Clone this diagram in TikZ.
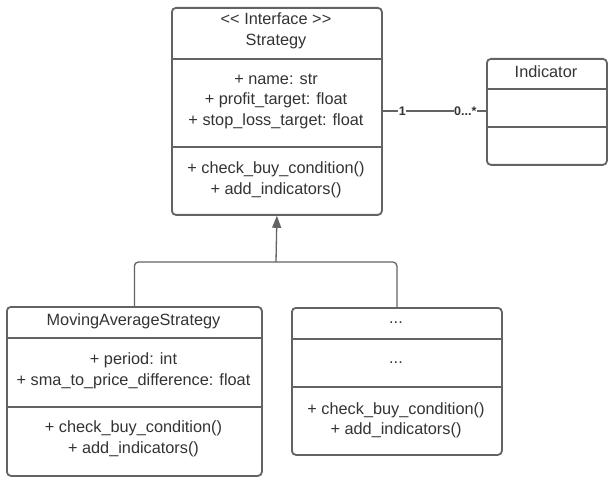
\documentclass[tikz,border=0pt]{standalone}
\usepackage{fontspec}
\setmainfont{Liberation Sans}
\usetikzlibrary{arrows.meta}
\definecolor{umlline}{HTML}{636363}
\definecolor{umltext}{HTML}{333333}

\begin{document}
\begin{tikzpicture}[
    x=1pt, y=-1pt,
    font=\fontsize{16.3}{20.5}\selectfont,
    classbox/.style={draw=umlline, line width=1.8pt, rounded corners=4pt,
        anchor=north west, inner sep=0pt},
    divider/.style={umlline, line width=1.8pt},
    member/.style={text=umltext, align=center, inner sep=0pt},
    conn/.style={umlline, line width=1.3pt},
    mult/.style={text=umltext, font=\fontsize{12.5}{14}\selectfont\bfseries,
        fill=white, inner sep=0.5pt}
    ]
    \useasboundingbox (0,0) rectangle (613,481);

    % classes
    \node[classbox, minimum width=210pt, minimum height=207pt] (strategy) at (171,7) {};
    \node[classbox, minimum width=120pt, minimum height=106pt] (indicator) at (486,58) {};
    \node[classbox, minimum width=255pt, minimum height=169pt] (mas) at (6,306) {};
    \node[classbox, minimum width=210pt, minimum height=147pt] (other) at (291,307) {};

    % compartments
    \foreach \y in {59,147}{
    \draw[divider] (171,\y) -- (381,\y);
    }
    \foreach \y in {89,127}{
    \draw[divider] (486,\y) -- (606,\y);
    }
    \foreach \y in {338,407}{
    \draw[divider] (6,\y) -- (261,\y);
    }
    \foreach \y in {339,387}{
    \draw[divider] (291,\y) -- (501,\y);
    }

    % texts
    \node[member] (strategy-name) at (276,31) {<\kern0pt< Interface >\kern0pt>\\Strategy};
    \node[member] (strategy-attr) at (276,101) {+ name: str\\+ profit\_target: float\\+ stop\_loss\_target: float};
    \node[member] (strategy-ops) at (276,180) {+ check\_buy\_condition()\\+ add\_indicators()};
    \node[member] (indicator-name) at (546,72) {Indicator};
    \node[member] (mas-name) at (133.5,321) {MovingAverageStrategy};
    \node[member] (mas-attr) at (133.5,371) {+ period: int\\+ sma\_to\_price\_difference: float};
    \node[member] (mas-ops) at (133.5,439) {+ check\_buy\_condition()\\+ add\_indicators()};
    \node[member] (other-name) at (396,323) {...};
    \node[member] (other-attr) at (396,363) {...};
    \node[member] (other-ops) at (396,420.5) {+ check\_buy\_condition()\\+ add\_indicators()};

    % association
    \draw[conn] (strategy.east |- 0,111) -- (indicator.west |- 0,111)
        node[mult, pos=0.19] (one) {1}
        node[mult, pos=0.80] (many) {0...*};

    % inheritance
    \coordinate (split) at (276,262);
    \draw[conn, rounded corners=4pt] (mas.north) |- (split) -| (other.north);
    \draw[conn, -{Triangle[length=12pt,width=9pt]}] (split) -- (strategy.south);

\end{tikzpicture}
\end{document}
